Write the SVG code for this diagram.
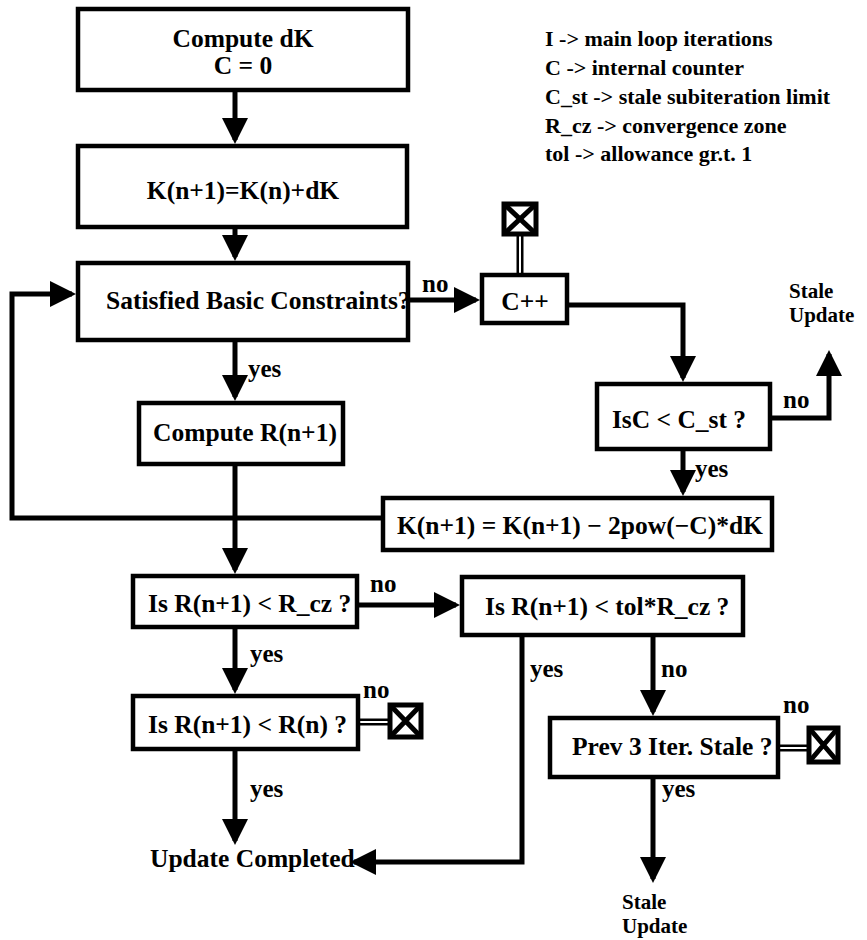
<svg xmlns="http://www.w3.org/2000/svg" width="867" height="940" viewBox="0 0 867 940">
<style>
  .box { fill: #fff; stroke: #000; stroke-width: 4.5; }
  .t { font-family: "Liberation Serif", "Times New Roman", serif; font-weight: bold; fill: #000; }
  .bt { font-size: 25.5px; }
  .lbl { font-size: 25px; }
  .leg { font-size: 22px; }
  .su { font-size: 21px; }
  .c { stroke: #000; stroke-width: 5; fill: none; }
  .dbl-o { stroke: #000; stroke-width: 7; fill: none; }
  .dbl-i { stroke: #fff; stroke-width: 2; fill: none; }
  .xb { fill: #fff; stroke: #000; stroke-width: 5; }
  .xd { stroke: #000; stroke-width: 5; }
</style>
<defs>
  <marker id="ah" markerUnits="userSpaceOnUse" markerWidth="26" markerHeight="26" viewBox="0 0 26 26" refX="22" refY="13" orient="auto">
    <path d="M0,0 L26,13 L0,26 z" fill="#000"/>
  </marker>
</defs>

<g id="legend">
  <text class="t leg" x="545" y="46">I -&gt; main loop iterations</text>
  <text class="t leg" x="545" y="75">C -&gt; internal counter</text>
  <text class="t leg" x="545" y="104">C_st -&gt; stale subiteration limit</text>
  <text class="t leg" x="545" y="133">R_cz -&gt; convergence zone</text>
  <text class="t leg" x="545" y="161">tol -&gt; allowance gr.t. 1</text>
</g>

<g id="connectors">
  <path class="c" d="M235,90 V140" marker-end="url(#ah)"/>
  <path class="c" d="M235,227 V257" marker-end="url(#ah)"/>
  <path class="c" d="M383,518 H12 V294 H72" marker-end="url(#ah)"/>
  <path class="c" d="M408,300 H476" marker-end="url(#ah)"/>
  <path class="c" d="M567,305 H683 V378" marker-end="url(#ah)"/>
  <path class="c" d="M770,418 H829 V354" marker-end="url(#ah)"/>
  <path class="c" d="M683,449 V492" marker-end="url(#ah)"/>
  <path class="c" d="M235,340 V397" marker-end="url(#ah)"/>
  <path class="c" d="M235,464 V570" marker-end="url(#ah)"/>
  <path class="c" d="M357,605 H456" marker-end="url(#ah)"/>
  <path class="c" d="M522,635 V862 H354" marker-end="url(#ah)"/>
  <path class="c" d="M653,635 V712" marker-end="url(#ah)"/>
  <path class="c" d="M235,627 V690" marker-end="url(#ah)"/>
  <path class="c" d="M235,749 V841" marker-end="url(#ah)"/>
  <path class="c" d="M653,777 V879" marker-end="url(#ah)"/>
  <path class="dbl-o" d="M520,236 V275"/>
  <path class="dbl-i" d="M520,236 V275"/>
  <path class="dbl-o" d="M358,722 H389"/>
  <path class="dbl-i" d="M358,722 H389"/>
  <path class="dbl-o" d="M778,748 H808"/>
  <path class="dbl-i" d="M778,748 H808"/>
  <text class="t lbl" x="422" y="292">no</text>
  <text class="t lbl" x="783" y="408">no</text>
  <text class="t lbl" x="695" y="477">yes</text>
  <text class="t lbl" x="248" y="377">yes</text>
  <text class="t lbl" x="370" y="592">no</text>
  <text class="t lbl" x="250" y="662">yes</text>
  <text class="t lbl" x="363" y="698">no</text>
  <text class="t lbl" x="250" y="797">yes</text>
  <text class="t lbl" x="530" y="677">yes</text>
  <text class="t lbl" x="661" y="677">no</text>
  <text class="t lbl" x="783" y="713">no</text>
  <text class="t lbl" x="662" y="797">yes</text>
</g>

<g id="n-compute-dk">
  <rect class="box" x="78" y="9" width="330" height="81"/>
  <text class="t bt" x="243" y="47" text-anchor="middle">Compute dK</text>
  <text class="t bt" x="243" y="74" text-anchor="middle">C = 0</text>
</g>
<g id="n-k-update">
  <rect class="box" x="78" y="146" width="329" height="81"/>
  <text class="t bt" x="243" y="199" text-anchor="middle">K(n+1)=K(n)+dK</text>
</g>
<g id="n-satisfied">
  <rect class="box" x="78" y="263" width="330" height="77"/>
  <text class="t bt" x="106" y="309">Satisfied Basic Constraints?</text>
</g>
<g id="n-cpp">
  <rect class="box" x="482" y="275" width="85" height="48"/>
  <text class="t bt" x="525" y="310" text-anchor="middle">C++</text>
</g>
<g id="n-x-top">
  <rect class="xb" x="504" y="204" width="32" height="30"/>
  <path class="xd" d="M504,204 L536,234 M536,204 L504,234"/>
</g>
<g id="n-stale-update-top">
  <text class="t su" x="789" y="298">Stale</text>
  <text class="t su" x="789" y="322">Update</text>
</g>
<g id="n-isc">
  <rect class="box" x="597" y="384" width="173" height="65"/>
  <text class="t bt" x="679" y="428" text-anchor="middle">IsC &lt; C_st ?</text>
</g>
<g id="n-k-reduce">
  <rect class="box" x="383" y="498" width="389" height="52"/>
  <text class="t bt" x="397" y="534">K(n+1) = K(n+1) − 2pow(−C)*dK</text>
</g>
<g id="n-compute-r">
  <rect class="box" x="139" y="403" width="204" height="61"/>
  <text class="t bt" x="245" y="441" text-anchor="middle">Compute R(n+1)</text>
</g>
<g id="n-is-rcz">
  <rect class="box" x="133" y="576" width="224" height="51"/>
  <text class="t bt" x="148" y="612">Is R(n+1) &lt; R_cz ?</text>
</g>
<g id="n-is-tol">
  <rect class="box" x="462" y="577" width="281" height="58"/>
  <text class="t bt" x="485" y="615">Is R(n+1) &lt; tol*R_cz ?</text>
</g>
<g id="n-is-rn">
  <rect class="box" x="133" y="696" width="225" height="53"/>
  <text class="t bt" x="148" y="733">Is R(n+1) &lt; R(n) ?</text>
</g>
<g id="n-x-rn">
  <rect class="xb" x="390" y="705" width="31" height="32"/>
  <path class="xd" d="M390,705 L421,737 M421,705 L390,737"/>
</g>
<g id="n-prev">
  <rect class="box" x="550" y="718" width="228" height="59"/>
  <text class="t bt" x="572" y="755">Prev 3 Iter. Stale ?</text>
</g>
<g id="n-x-prev">
  <rect class="xb" x="809" y="728" width="29" height="34"/>
  <path class="xd" d="M809,728 L838,762 M838,728 L809,762"/>
</g>
<g id="n-update-completed">
  <text class="t bt" x="150" y="867">Update Completed</text>
</g>
<g id="n-stale-update-bottom">
  <text class="t su" x="622" y="909">Stale</text>
  <text class="t su" x="622" y="933">Update</text>
</g>
</svg>
